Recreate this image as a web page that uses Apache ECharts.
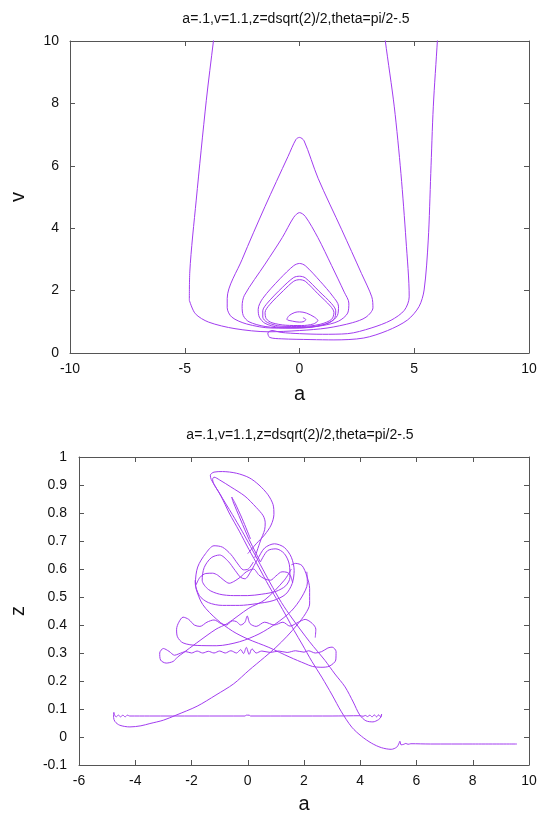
<!DOCTYPE html>
<html lang="en">
<head>
<meta charset="UTF-8">
<title>a-v / a-z</title>
<script src="https://cdn.jsdelivr.net/npm/echarts@6/dist/echarts.min.js"></script>
<style>
  html, body { margin: 0; padding: 0; background: #fff; }
  #chart { width: 542px; height: 815px; }
</style>
</head>
<body>
<div id="chart"></div>
<script>
// titles and axis ranges
var titleText = 'a=.1,v=1.1,z=dsqrt(2)/2,theta=pi/2-.5';
var topRangeA = [-10, 10, 5];
var topRangeV = [0, 10, 2];
var botRangeA = [-6, 10, 2];
var botRangeZ = [-0.1, 1, 0.1];

// ---- top plot: (a, v) ----
// triangular spiral, from the start point out to the last closed loop
var vSpiral = [
  [0.15,1.13],[0.27,1.08],[0.2,1.01],[0,0.99],[-0.3,1.02],[-0.55,1.08],[-0.45,1.2],[-0.2,1.3],[0,1.32],[0.3,1.28],[0.65,1.15],[0.8,1.04],[0.6,0.93],[0.1,0.88],[-0.6,0.89],[-1.2,0.97],[-1.45,1.1],
  [-1.5,1.3],[-1.3,1.55],[-0.7,2.0],[-0.25,2.3],[0,2.35],[0.25,2.3],[0.8,1.9],[1.35,1.5],[1.5,1.3],[1.4,1.08],[0.9,0.92],[0.1,0.85],[-0.8,0.86],[-1.4,0.98],[-1.6,1.15],
  [-1.6,1.35],[-1.4,1.6],[-0.75,2.1],[-0.25,2.42],[0,2.46],[0.25,2.41],[0.85,1.98],[1.4,1.58],[1.58,1.35],[1.5,1.08],[1.0,0.9],[0.1,0.82],[-0.9,0.83],[-1.5,0.95],[-1.75,1.15],
  [-1.8,1.4],[-1.6,1.75],[-0.85,2.38],[-0.25,2.8],[0,2.87],[0.25,2.8],[0.9,2.3],[1.45,1.82],[1.7,1.5],[1.65,1.2],[1.3,0.97],[0.6,0.84],[-0.5,0.8],[-1.5,0.85],[-2.2,1.0],[-2.45,1.2],
  [-2.5,1.5],[-2.4,1.85],[-1.5,2.85],[-0.75,3.7],[-0.25,4.35],[0,4.5],[0.25,4.38],[0.8,3.7],[1.4,2.8],[1.95,1.95],[2.15,1.6],[2.1,1.28],[1.7,1.02],[1.0,0.88],[0,0.8],[-1.2,0.8],[-2.3,0.93],[-2.95,1.15],[-3.15,1.45],
  [-3.15,1.75],[-2.5,3.0],[-1.5,4.7],[-0.5,6.3],[-0.15,6.85],[0,6.91],[0.2,6.8],[0.81,5.6],[1.84,3.95],[2.7,2.55],[3.15,1.8],[3.2,1.45],[2.9,1.15],[2.3,0.97],[1.2,0.8],[0,0.72],[-1.37,0.68],[-2.81,0.78],[-3.96,0.99],[-4.54,1.26],[-4.8,1.69]
];
// last loop leaves the frame at the top, then the escape on the right
var vEscape = [
  [-4.8,1.69],[-4.78,2.6],[-4.5,4.9],[-4.06,8.1],[-3.75,10],[-3.62,10.8],[3.62,10.8],[3.74,10],[4.13,7.89],[4.42,5.75],[4.64,3.62],[4.78,1.8],[4.57,1.37],[3.99,1.05],[3.12,0.8],[2.1,0.62],[1.0,0.6],[0,0.62],[-0.8,0.66],[-1.2,0.72],[-1.38,0.64],[-1.3,0.5],[-0.8,0.455],[0.5,0.43],[1.5,0.42],[2.8,0.48],[3.84,0.72],[4.71,1.06],[5.21,1.49],[5.43,2.02],[5.61,3.62],[5.72,5.75],[5.83,7.89],[6.01,10.03],[6.05,10.6]
];

// ---- bottom plot: (a, z) ----
var zNeedle = [[0.1,0.707],[-0.2,0.78],[-0.45,0.835],[-0.57,0.857],[-0.52,0.84],[-0.25,0.775],[0.05,0.705],[0.3,0.655],[0.45,0.625]];
var zEars = [
  [0.45,0.625],[0.7,0.665],[1.0,0.672],[1.3,0.655],[1.48,0.615],[1.5,0.57],[1.35,0.54],[1.0,0.52],[0.5,0.51],[0,0.505],[-0.5,0.505],[-1.0,0.51],[-1.4,0.527],[-1.62,0.56],[-1.55,0.605],[-1.3,0.64],[-1.0,0.65],[-0.7,0.628],[-0.45,0.595],[-0.25,0.57],[-0.1,0.565],[0.1,0.59],[0.35,0.635],[0.6,0.675],[0.95,0.69],[1.3,0.677],[1.55,0.642],[1.65,0.595],[1.58,0.548],[1.35,0.51],[0.9,0.487],[0.3,0.476],[-0.3,0.47],[-0.9,0.47],[-1.4,0.48],[-1.72,0.505],[-1.86,0.55],[-1.78,0.607],[-1.5,0.655],[-1.2,0.683],[-0.9,0.678],[-0.6,0.652],[-0.35,0.618],[-0.15,0.597],[0.02,0.6],[0.2,0.625]
];
var zWave = [[-1.84,0.543],[-1.7,0.57],[-1.49,0.584],[-1.25,0.585],[-1.07,0.578],[-0.85,0.56],[-0.66,0.549],[-0.45,0.558],[-0.25,0.572],[-0.05,0.59],[0.2,0.6],[0.4,0.578],[0.6,0.565],[0.81,0.56],[1.0,0.575],[1.22,0.59],[1.4,0.588],[1.51,0.578],[1.6,0.55]];
var zLeaf = [
  [0.0,0.655],[0.3,0.69],[0.6,0.722],[0.83,0.757],[0.93,0.795],[0.9,0.83],[0.72,0.865],[0.4,0.9],[0.05,0.926],[-0.4,0.942],[-0.9,0.948],[-1.2,0.946],[-1.33,0.935],[-1.3,0.92],[-0.95,0.86],[-0.66,0.8],[-0.3,0.735],[0.04,0.67],[0.4,0.605],[0.75,0.54],[1.1,0.48],[1.38,0.43],[1.65,0.38],[1.93,0.332],[2.28,0.27],[2.63,0.214],[3.0,0.15],[3.33,0.09],[3.7,0.035],[4.04,0.003],[4.4,-0.022],[4.75,-0.038],[5.1,-0.044],[5.3,-0.036],[5.38,-0.022],[5.41,-0.015],[5.45,-0.028],[5.55,-0.026],[5.62,-0.023],[5.7,-0.026],[5.8,-0.024],[6.5,-0.025],[8.0,-0.025],[9.57,-0.025]
];
var zLeafInner = [
  [0.25,0.64],[0.45,0.7],[0.6,0.74],[0.62,0.765],[0.55,0.79],[0.3,0.82],[-0.1,0.86],[-0.6,0.893],[-1.0,0.918],[-1.2,0.928],[-1.25,0.92],[-1.0,0.87],[-0.55,0.795],[-0.2,0.735],[0.1,0.68],[0.45,0.615],[0.8,0.55],[1.2,0.48],[1.57,0.425],[2.2,0.34],[2.75,0.273],[3.1,0.225],[3.46,0.179],[3.75,0.125],[3.98,0.079],[4.2,0.058],[4.45,0.054],[4.65,0.062],[4.74,0.072],[4.76,0.082]
];
var zBase = [
  [4.76,0.082],[4.72,0.072],[4.65,0.079],[4.58,0.072],[4.5,0.079],[4.42,0.072],[4.34,0.078],[4.26,0.073],[4.18,0.077],[4.1,0.074],[4.0,0.076],[3.0,0.075],[0.1,0.075],[0.05,0.078],[-0.05,0.078],[-0.1,0.075],[-3.5,0.075],[-4.2,0.075],[-4.28,0.078],[-4.36,0.072],[-4.44,0.078],[-4.52,0.072],[-4.6,0.078],[-4.68,0.072],[-4.74,0.08],[-4.76,0.088],[-4.77,0.07],[-4.72,0.055],[-4.55,0.042],[-4.19,0.036],[-3.8,0.04],[-3.48,0.048],[-3.0,0.06],[-2.55,0.078],[-1.8,0.11],[-1.13,0.15],[-0.5,0.19],[0.04,0.238],[0.6,0.285],[1.0,0.32],[1.4,0.36],[1.75,0.4],[2.05,0.44],[2.2,0.475],[2.2,0.53],[2.1,0.575],[1.93,0.612],[1.7,0.62],[1.55,0.615]
];
var zLayer40 = [
  [2.4,0.355],[2.42,0.385],[2.3,0.405],[2.04,0.42],[1.8,0.41],[1.5,0.396],[1.25,0.41],[0.95,0.4],[0.6,0.41],[0.3,0.395],[0.08,0.405],[-0.02,0.432],[-0.1,0.41],[-0.25,0.4],[-0.4,0.412],[-0.55,0.415],[-0.75,0.4],[-0.95,0.405],[-1.2,0.418],[-1.45,0.41],[-1.7,0.395],[-1.9,0.4],[-2.1,0.42],[-2.3,0.428],[-2.45,0.41],[-2.53,0.385],[-2.5,0.358],[-2.3,0.336],[-1.8,0.327],[-1.1,0.326],[-0.3,0.34],[0.4,0.368],[1.0,0.405],[1.55,0.45],[1.92,0.5],[2.12,0.55],[2.1,0.59]
];
var zLayer30 = [
  [1.55,0.6],[1.3,0.56],[0.61,0.49],[0.04,0.46],[-0.73,0.405],[-1.13,0.385],[-1.83,0.335],[-2.3,0.3],[-2.5,0.285],[-2.65,0.27],[-2.9,0.264],[-3.1,0.275],[-3.13,0.3],[-3.0,0.316],[-2.8,0.306],[-2.6,0.292],[-2.45,0.297],
  [-2.2,0.305],[-2.0,0.3],[-1.8,0.307],[-1.6,0.3],[-1.4,0.306],[-1.2,0.3],[-1.0,0.307],[-0.8,0.3],[-0.6,0.308],[-0.4,0.3],[-0.25,0.312],[-0.15,0.298],[-0.05,0.32],[0.05,0.295],[0.15,0.315],[0.3,0.3],[0.5,0.307],[0.8,0.302],[1.1,0.307],[1.4,0.302],[1.7,0.308],[2.0,0.303],[2.16,0.308],
  [2.4,0.3],[2.63,0.305],[2.85,0.318],[3.0,0.321],[3.14,0.305],[3.13,0.275],[2.9,0.253],[2.6,0.249],[2.3,0.252],[2.04,0.262],[1.5,0.285],[0.75,0.32],[0,0.35],[-0.54,0.378],[-1.1,0.42],[-1.6,0.473],[-1.84,0.53],[-1.87,0.56]
];

var lineColor = '#a23cf0';
var fontFam = '"Liberation Sans", Arial, sans-serif';

var chart = echarts.init(document.getElementById('chart'));

function path(data, xi, yi) {
  return {
    type: 'line',
    data: data,
    xAxisIndex: xi,
    yAxisIndex: yi,
    showSymbol: false,
    symbol: 'none',
    smooth: 0.3,
    clip: true,
    lineStyle: { color: lineColor, width: 1 },
    silent: true
  };
}

function xAx(grid, pos, range, labels, name, gap) {
  return {
    type: 'value', gridIndex: grid, position: pos,
    min: range[0], max: range[1], interval: range[2],
    name: name, nameLocation: 'middle', nameGap: gap,
    nameTextStyle: { fontSize: 20, color: '#111', fontFamily: fontFam },
    axisLine: { show: true, onZero: false, lineStyle: { color: '#555', width: 1 } },
    axisTick: { show: true, inside: true, length: 5, lineStyle: { color: '#555' } },
    axisLabel: { show: labels, color: '#111', fontSize: 14, margin: 9, fontFamily: fontFam },
    splitLine: { show: false }
  };
}

function yAx(grid, pos, range, labels, name, gap, margin) {
  return {
    type: 'value', gridIndex: grid, position: pos,
    min: range[0], max: range[1], interval: range[2],
    name: name, nameLocation: 'middle', nameGap: gap,
    nameTextStyle: { fontSize: 20, color: '#111', fontFamily: fontFam },
    axisLine: { show: true, onZero: false, lineStyle: { color: '#555', width: 1 } },
    axisTick: { show: true, inside: true, length: 5, lineStyle: { color: '#555' } },
    axisLabel: { show: labels, color: '#111', fontSize: 14, margin: margin, fontFamily: fontFam },
    splitLine: { show: false }
  };
}

var option = {
  animation: false,
  backgroundColor: '#fff',
  title: [
    { text: titleText, left: 291, top: 7, textAlign: 'center',
      textStyle: { fontSize: 14, fontWeight: 'normal', color: '#111', fontFamily: fontFam } },
    { text: titleText, left: 295, top: 423, textAlign: 'center',
      textStyle: { fontSize: 14, fontWeight: 'normal', color: '#111', fontFamily: fontFam } }
  ],
  grid: [
    { left: 66, top: 41, width: 463, height: 312 },
    { left: 75, top: 457, width: 454, height: 312 }
  ],
  xAxis: [
    xAx(0, 'bottom', topRangeA, true, 'a', 31),
    xAx(0, 'top', topRangeA, false, '', 0),
    xAx(1, 'bottom', botRangeA, true, 'a', 29),
    xAx(1, 'top', botRangeA, false, '', 0)
  ],
  yAxis: [
    yAx(0, 'left', topRangeV, true, 'v', 42, 11),
    yAx(0, 'right', topRangeV, false, '', 0, 8),
    yAx(1, 'left', botRangeZ, true, 'z', 51, 12),
    yAx(1, 'right', botRangeZ, false, '', 0, 8)
  ],
  series: [
    path(vSpiral, 0, 0),
    path(vEscape, 0, 0),
    path(zNeedle, 2, 2),
    path(zEars, 2, 2),
    path(zWave, 2, 2),
    path(zLeaf, 2, 2),
    path(zLeafInner, 2, 2),
    path(zBase, 2, 2),
    path(zLayer40, 2, 2),
    path(zLayer30, 2, 2)
  ]
};

chart.setOption(option);
</script>
</body>
</html>
